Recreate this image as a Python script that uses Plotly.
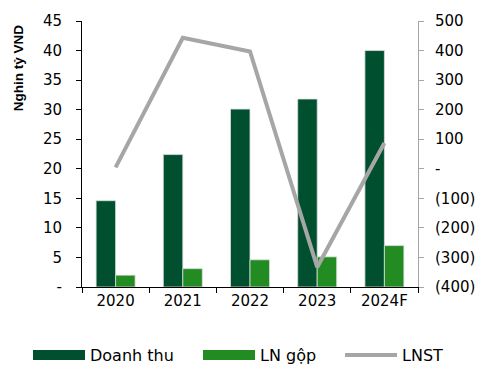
import plotly.graph_objects as go

years = ["2020", "2021", "2022", "2023", "2024F"]
doanh_thu = [14.6, 22.4, 30.1, 31.8, 40.0]
ln_gop = [2.0, 3.1, 4.6, 5.1, 7.0]
lnst = [5, 443, 397, -333, 87]

left_ticks = [0, 5, 10, 15, 20, 25, 30, 35, 40, 45]
left_text = ["-", "5", "10", "15", "20", "25", "30", "35", "40", "45"]
right_ticks = [-400, -300, -200, -100, 0, 100, 200, 300, 400, 500]
right_text = ["(400)", "(300)", "(200)", "(100)", "-", "100", "200", "300", "400", "500"]

DARK = "#00502F"
LIGHT = "#228B22"
GRAY = "#A6A6A6"
FONT = "DejaVu Sans, sans-serif"
TITLE_FONT = "Liberation Sans, Arial, sans-serif"

fig = go.Figure()
fig.add_trace(go.Bar(x=years, y=doanh_thu, name="Doanh thu", marker=dict(color=DARK, line=dict(color="rgba(220,220,220,0.8)", width=1)), showlegend=False))
fig.add_trace(go.Bar(x=years, y=ln_gop, name="LN gộp", marker=dict(color=LIGHT, line=dict(color="rgba(220,220,220,0.8)", width=1)), showlegend=False))
fig.add_trace(go.Scatter(x=years, y=lnst, name="LNST", mode="lines", line=dict(color=GRAY, width=4), yaxis="y2", showlegend=False))

# legend-only entries, one legend each so they sit in one row
fig.add_trace(go.Scatter(x=[None], y=[None], mode="lines", name="Doanh thu", line=dict(color=DARK, width=10), legend="legend"))
fig.add_trace(go.Scatter(x=[None], y=[None], mode="lines", name="LN gộp", line=dict(color=LIGHT, width=10), legend="legend2"))
fig.add_trace(go.Scatter(x=[None], y=[None], mode="lines", name="LNST", line=dict(color=GRAY, width=4), legend="legend3"))

def leg(xpx):
    return dict(orientation="h", xref="container", yref="container", x=xpx / 487, xanchor="left",
                y=0.043, yanchor="middle", font=dict(size=16), itemwidth=52, bgcolor="rgba(0,0,0,0)")

fig.update_layout(
    width=487, height=371,
    margin=dict(l=82, r=65, t=13, b=84),
    paper_bgcolor="white", plot_bgcolor="white",
    font=dict(family=FONT, size=15, color="black"),
    barmode="group", bargap=0.42, bargroupgap=0,
    showlegend=True,
    legend=leg(28), legend2=leg(198), legend3=leg(340),
    xaxis=dict(showline=True, linecolor="black", linewidth=1, ticks="outside", tickson="boundaries",
               ticklen=5, tickcolor="black", showgrid=False, tickfont=dict(size=15)),
    yaxis=dict(range=[0, 45], tickvals=left_ticks, ticktext=left_text, showline=True, linecolor="black",
               ticks="outside", ticklen=5, tickcolor="black", showgrid=False, zeroline=False,
               ticklabelstandoff=11),
    yaxis2=dict(range=[-400, 500], tickvals=right_ticks, ticktext=right_text, overlaying="y", side="right",
                showline=True, linecolor=GRAY, ticks="outside", ticklen=5, tickcolor=GRAY, showgrid=False,
                zeroline=False, ticklabelstandoff=8),
    annotations=[dict(text="<b>Nghin tỷ VND</b>", textangle=-90, xref="paper", yref="paper",
                      x=(18 - 82) / 340, y=(287 - 62) / 274, xanchor="center", yanchor="middle",
                      showarrow=False, font=dict(size=13.5, family=TITLE_FONT))],
)

fig.write_html("out.html")
